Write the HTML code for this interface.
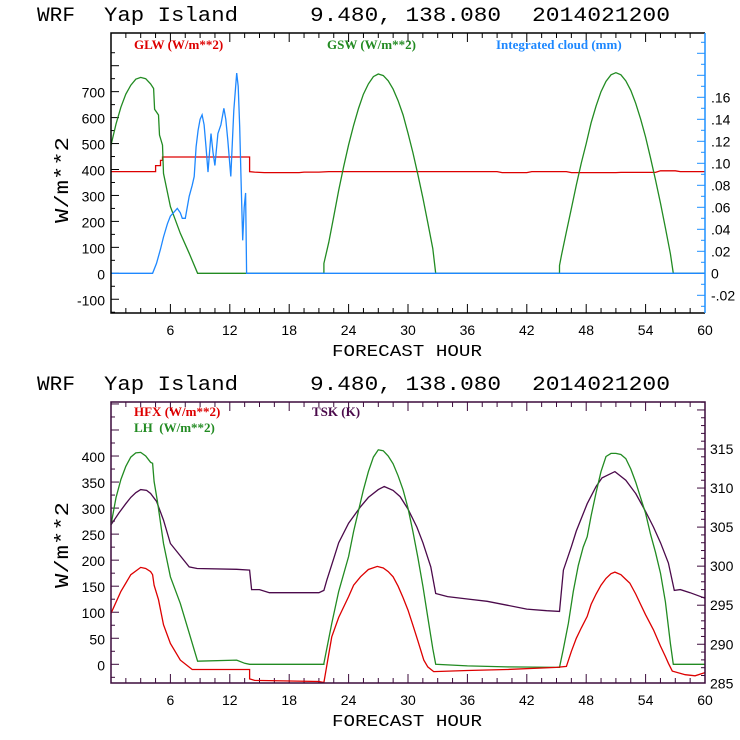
<!DOCTYPE html>
<html><head><meta charset="utf-8"><style>
body{margin:0;background:#fff;}
svg{display:block;font-family:"Liberation Mono",monospace;}
.tk{font-family:"Liberation Sans",sans-serif;font-size:14px;}
.lg{font-family:"Liberation Serif",serif;font-size:13px;font-weight:bold;}
</style></head><body>
<svg id="chart" width="740" height="740" viewBox="0 0 740 740">
<rect width="740" height="740" fill="#fff"/>
</svg>
<script>
// ---- Top panel data ----
const gswHours = [0,0.5,1,1.5,2,2.5,3,3.5,4,4.3,4.4,4.8,4.9,5.2,5.3,6,7,7.9,8.75,21.5,21.5,22,22.5,23,23.5,24,24.5,25,25.5,26,26.5,27,27.5,28,28.5,29,29.5,30,30.5,31,31.5,32,32.5,32.8,45.3,45.3,45.5,46,46.5,47,47.5,48,48.5,49,49.5,50,50.5,51,51.5,52,52.5,53,53.5,54,54.5,55,55.5,56,56.5,56.8,60];
const gswValues = [494,575,640,690,725,748,755,750,730,712,632,610,533,494,385,257,154,77,0,0,38,120,220,320,410,495,570,635,690,730,758,768,762,742,710,665,610,540,465,380,290,195,95,0,0,30,70,160,250,340,425,500,580,645,700,740,765,773,765,742,705,655,595,525,445,360,270,175,75,0,0];
const glwHours = [0,4.5,4.5,5,5,5.2,5.2,14,14,14.5,15.5,19,19.5,21,22,39,39.5,42,42.5,46,46.5,51,51.5,55,55.5,57,57.5,60];
const glwValues = [392,392,415,415,435,435,448,448,392,390,388,388,390,390,392,392,388,388,392,392,388,388,389,389,395,395,392,392];
const cloudHours = [0,4.2,4.6,5.0,5.3,5.7,6,6.4,6.7,7.0,7.2,7.5,7.9,8.2,8.4,8.6,8.8,9.0,9.2,9.4,9.6,9.8,10.1,10.3,10.5,10.8,11.1,11.4,11.6,11.8,12.1,12.4,12.7,12.85,13.0,13.15,13.3,13.45,13.6,13.7,60];
const cloudValues = [0,0,0.009,0.022,0.033,0.045,0.052,0.056,0.059,0.055,0.050,0.050,0.070,0.080,0.088,0.115,0.130,0.140,0.144,0.135,0.115,0.092,0.127,0.110,0.098,0.127,0.135,0.150,0.140,0.121,0.088,0.148,0.182,0.170,0.133,0.080,0.030,0.060,0.073,0,0];
const topLeftTicks = [-100,0,100,200,300,400,500,600,700];
const topRightTicks = [-0.02,0,0.02,0.04,0.06,0.08,0.10,0.12,0.14,0.16];
const topRightLabels = ["-.02","0",".02",".04",".06",".08",".10",".12",".14",".16"];
const xTicks = [6,12,18,24,30,36,42,48,54,60];
// ---- Bottom panel data ----
const lhHours = [0,0.5,1,1.5,2,2.5,3,3.5,4,4.2,4.35,4.7,5.3,6,7,7.9,8.75,12.7,13.5,14,21.5,21.5,22.3,23,24,24.5,25,25.5,26,26.5,27,27.5,28,28.5,29,29.5,30,30.5,31,31.5,32,32.5,32.8,36,40,45.3,45.7,46.2,46.7,47.2,47.7,48.1,48.5,49,49.5,50,50.5,51,51.5,52,52.5,53,53.5,54,54.5,55,55.5,56,56.5,56.8,60];
const lhValues = [268,320,355,380,398,406,407,400,388,386,351,312,232,168,117,60,6,8,2,0,0,2,79,140,207,255,295,335,370,398,412,410,400,385,362,335,300,255,205,150,90,30,0,-3,-5,-6,30,79,140,190,225,245,285,330,370,399,405,405,403,395,375,350,320,290,250,215,175,120,40,0,0];
const hfxHours = [0,1,2,3,3.5,4,4.2,4.35,4.8,5.3,6,7,8.2,8.9,14,14,14.5,21,21.5,22,22.3,23,24,24.5,25.2,26,26.9,27.5,28,28.5,29,29.5,30,30.5,31,31.6,32,32.6,36,40,45,46,46.5,47,47.5,48.1,48.5,49,49.5,50,50.5,50.9,51.5,52,52.4,53,53.5,54,54.8,55.5,56,56.3,56.7,58,59,60];
const hfxValues = [98,140,172,186,184,178,172,152,124,76,40,8,-10,-10,-10,-28,-31,-33,-35,20,53,90,130,152,168,182,188,185,178,168,150,128,104,75,45,8,-5,-14,-12,-10,-6,-4,25,50,70,92,115,135,152,165,174,177,172,163,156,135,115,95,66,35,15,2,-13,-20,-22,-16];
const tskHours = [0,0.8,1.5,2,2.5,3,3.6,4,4.6,5.3,6,7.9,8.7,12.7,14,14.2,15,16,21,21.5,21.8,22.5,23,24,25.2,26,27,27.6,28.5,29.2,30,30.9,31.5,32.3,32.8,34,36,38,40,42,44,45.3,45.7,46.5,47,48.1,49,49.6,50.9,52,53,54,54.8,55.5,56.3,56.9,57.5,58.5,60];
const tskValues = [305.3,306.8,308,308.8,309.4,309.8,309.7,309.3,308.3,305.9,302.9,299.9,299.7,299.6,299.5,297,297,296.6,296.6,296.9,298.2,301,303,305.5,307.6,308.8,309.8,310.2,309.7,308.9,307.3,305,303,299.9,296.5,296.1,295.8,295.5,295,294.5,294.3,294.2,299.5,302.5,304.5,308,310.2,311.3,312.1,311,309.3,307,305,303,300.4,296.9,297,296.6,295.9];
const botLeftTicks = [0,50,100,150,200,250,300,350,400];
const botRightTicks = [285,290,295,300,305,310,315];

const NS="http://www.w3.org/2000/svg";
const svg=document.getElementById('chart');
function el(tag,attrs,parent){const e=document.createElementNS(NS,tag);for(const k in attrs)e.setAttribute(k,attrs[k]);(parent||svg).appendChild(e);return e;}
function txt(s,attrs,parent){const e=el('text',attrs,parent);e.textContent=s;return e;}

const X0=111,X1=705;
const xs=h=>X0+(X1-X0)*h/60;
const T={top:33,bot:313};
const yTL=v=>273.3-v*0.2595;
const yTR=v=>273.3-v*1100;
const B={top:402,bot:683};
const yBL=v=>664.3-v*0.5207;
const yBR=v=>683.3-(v-285)*7.81;

function line(hs,vs,ys,color,name,g){
  let d='';for(let i=0;i<hs.length;i++){d+=(i?'L':'M')+xs(hs[i]).toFixed(1)+','+ys(vs[i]).toFixed(1);}
  const p=el('path',{d:d,fill:'none',stroke:color,'stroke-width':1.3},g);
  
  
}
function title(y){
  const g=el('g',{'font-size':20,fill:'#000'});
  
  
  txt('WRF',{x:37,y:y,textLength:38,lengthAdjust:'spacingAndGlyphs'},g);
  txt('Yap Island',{x:104,y:y,textLength:134,lengthAdjust:'spacingAndGlyphs'},g);
  txt('9.480, 138.080',{x:310,y:y,textLength:191,lengthAdjust:'spacingAndGlyphs'},g);
  txt('2014021200',{x:532,y:y,textLength:138,lengthAdjust:'spacingAndGlyphs'},g);
}
function xaxis(P,color,g){
  for(let h=0;h<=60;h+=1.5){const major=h%6===0;const L=major?9:5;
    el('line',{x1:xs(h),x2:xs(h),y1:P.bot,y2:P.bot-L,stroke:color},g);
    el('line',{x1:xs(h),x2:xs(h),y1:P.top,y2:P.top+L,stroke:color},g);}
  xTicks.forEach(h=>{const t=txt(String(h),{x:xs(h),y:P.bot+22,'text-anchor':'middle',class:'tk','font-size':16},g);
    
    });
  const t=txt('FORECAST HOUR',{x:407,y:P.bot+43,'text-anchor':'middle','font-size':17,textLength:150,lengthAdjust:'spacingAndGlyphs'},g);
  
  
}
function ytitle(cy,g){
  const t=txt('W/m**2',{x:0,y:0,'font-size':19,transform:`translate(68,${cy}) rotate(-90)`,'text-anchor':'middle',textLength:86,lengthAdjust:'spacingAndGlyphs'},g);
  
  
}

// ===== TOP PANEL =====
title(21);
const gT=el('g',{});


for(let v=-150;v<=850;v+=50){const y=yTL(v);if(y<T.top||y>T.bot)continue;const L=v%100===0?8:4;el('line',{x1:X0,x2:X0+L,y1:y,y2:y,stroke:'#000'},gT);}
topLeftTicks.forEach(v=>{const t=txt(String(v),{x:105,y:yTL(v)+6,'text-anchor':'end',class:'tk'},gT);
  
  });
for(let i=-4;i<=22;i++){const v=i*0.01;const y=yTR(v);if(y<T.top||y>T.bot)continue;const L=i%2===0?8:4;el('line',{x1:X1,x2:X1-L,y1:y,y2:y,stroke:'#1e90ff'},gT);}
topRightTicks.forEach((v,i)=>{const t=txt(topRightLabels[i],{x:711,y:yTR(v)+5,class:'tk','font-size':13},gT);
  
  });
xaxis(T,'#000',gT);
ytitle(180,gT);
line(glwHours,glwValues,yTL,'#dd0000','glw-line',gT);
line(gswHours,gswValues,yTL,'#228b22','gsw-line',gT);
line(cloudHours,cloudValues,yTR,'#1e88ff','cloud-line',gT);
el('path',{d:`M${X1},${T.top}H${X0}V${T.bot}H${X1}`,fill:'none',stroke:'#000','stroke-width':1.5},gT);
el('line',{x1:X1,x2:X1,y1:T.top,y2:T.bot,stroke:'#1e90ff','stroke-width':1.5},gT);
[['GLW (W/m**2)',134,'#dd0000','legend-glw'],['GSW (W/m**2)',327,'#228b22','legend-gsw'],['Integrated cloud (mm)',496,'#1e88ff','legend-cloud']].forEach(a=>{
  const t=txt(a[0],{x:a[1],y:49,fill:a[2],class:'lg'},gT);
  
  });

// ===== BOTTOM PANEL =====
title(390);
const gB=el('g',{});


for(let v=-50;v<=500;v+=25){const y=yBL(v);if(y<B.top||y>B.bot)continue;const L=v%50===0?8:4;el('line',{x1:X0,x2:X0+L,y1:y,y2:y,stroke:'#3b0a3b'},gB);}
botLeftTicks.forEach(v=>{const t=txt(String(v),{x:105,y:yBL(v)+6,'text-anchor':'end',class:'tk'},gB);
  
  });
for(let v=285;v<=322;v+=1){const y=yBR(v);if(y<B.top||y>B.bot)continue;const L=v%5===0?8:4;el('line',{x1:X1,x2:X1-L,y1:y,y2:y,stroke:'#3b0a3b'},gB);}
botRightTicks.forEach(v=>{const t=txt(String(v),{x:710,y:yBR(v)+5,class:'tk','font-size':12},gB);
  
  });
xaxis(B,'#3b0a3b',gB);
ytitle(545,gB);
line(tskHours,tskValues,yBR,'#4b0a4b','tsk-line',gB);
line(lhHours,lhValues,yBL,'#228b22','lh-line',gB);
line(hfxHours,hfxValues,yBL,'#dd0000','hfx-line',gB);
el('rect',{x:X0,y:B.top,width:X1-X0,height:B.bot-B.top,fill:'none',stroke:'#3b0a3b','stroke-width':1.5},gB);
[['HFX (W/m**2)',134,416,'#dd0000','legend-hfx'],['LH\u00a0\u00a0(W/m**2)',134,432,'#228b22','legend-lh'],['TSK (K)',312,416,'#4b0a4b','legend-tsk']].forEach(a=>{
  const t=txt(a[0],{x:a[1],y:a[2],fill:a[3],class:'lg'},gB);
  
  });
</script>
</body></html>
